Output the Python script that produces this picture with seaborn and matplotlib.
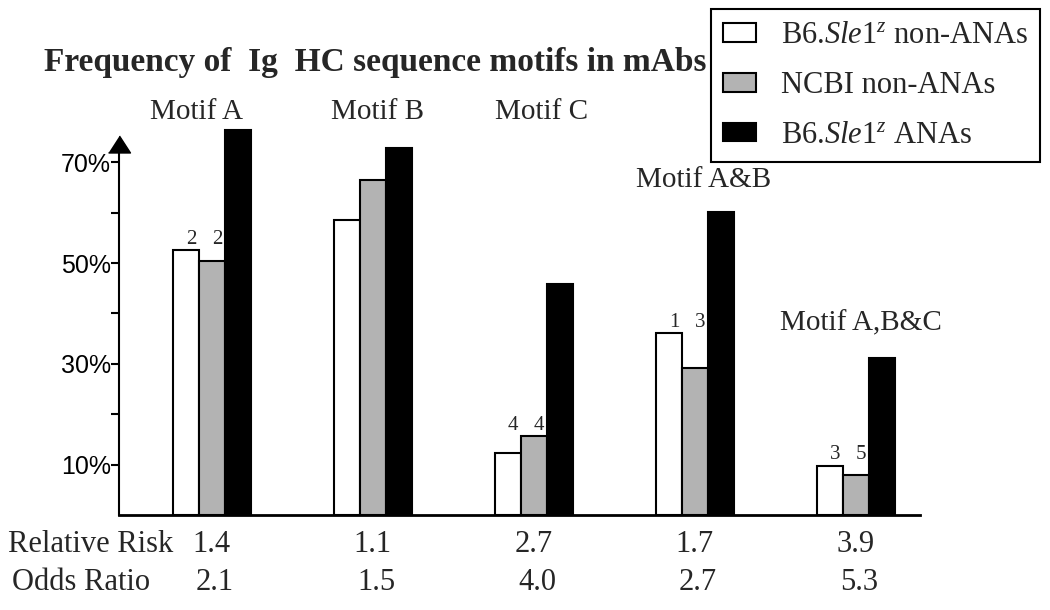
import matplotlib
matplotlib.use("Agg")
import matplotlib.pyplot as plt
import matplotlib.transforms as mtransforms
import pandas as pd
import seaborn as sns

# values (percent of mAbs)
motifs = ["Motif A", "Motif B", "Motif C", "Motif A&B", "Motif A,B&C"]
groups = [r"B6.$\mathit{Sle1}^{z}$ non-ANAs", "NCBI non-ANAs", r"B6.$\mathit{Sle1}^{z}$ ANAs"]
b6_non_ana = [52.5, 58.6, 12.4, 36.1, 9.8]
ncbi_non_ana = [50.4, 66.4, 15.6, 29.2, 7.9]
b6_ana = [76.3, 72.9, 45.9, 60.1, 31.2]
b6_non_ana_n = ["2", "", "4", "1", "3"]
ncbi_non_ana_n = ["2", "", "4", "3", "5"]
relative_risk = ["1.4", "1.1", "2.7", "1.7", "3.9"]
odds_ratio = ["2.1", "1.5", "4.0", "2.7", "5.3"]
yticks = [10, 20, 30, 40, 50, 60, 70]
ytick_labels = ["10%", "", "30%", "", "50%", "", "70%"]

SERIF = "Liberation Serif"
SANS = "Liberation Sans"


def main():
    sns.set_theme(style="ticks")
    plt.rcParams["font.family"] = [SERIF, "DejaVu Serif"]
    plt.rcParams["mathtext.fontset"] = "custom"
    plt.rcParams["mathtext.rm"] = SERIF
    plt.rcParams["mathtext.it"] = SERIF + ":italic"

    df = pd.DataFrame({
        "motif": motifs * 3,
        "group": [g for g in groups for _ in motifs],
        "freq": b6_non_ana + ncbi_non_ana + b6_ana,
    })

    fig = plt.figure(figsize=(10.5, 6.1), dpi=100)
    ax = fig.add_axes([119 / 1050, 95 / 610, 801 / 1050, 403.2 / 610])
    sns.barplot(data=df, x="motif", y="freq", hue="group", order=motifs,
                hue_order=groups, palette=["white", "#b3b3b3", "black"],
                width=0.485, edgecolor="black", linewidth=1.5, saturation=1,
                errorbar=None, ax=ax)

    handles, labels = ax.get_legend_handles_labels()
    ax.get_legend().remove()
    leg = fig.legend(handles, labels, loc="upper left",
                     bbox_to_anchor=(711 / 1050, 1 - 9 / 610), frameon=True,
                     fancybox=False, edgecolor="black", framealpha=1,
                     prop=dict(family=SERIF, size=22), handlelength=1.08,
                     handleheight=0.56, handletextpad=0.8, labelspacing=0.68,
                     borderpad=0.4, borderaxespad=0)
    leg.get_frame().set_linewidth(1.5)

    ax.set_xlim(-0.5765, 4.399)
    ax.set_ylim(0, 80)
    ax.set_xlabel("")
    ax.set_ylabel("")
    ax.set_xticks([])
    ax.set_yticks(yticks, ytick_labels)
    ax.tick_params(axis="y", length=5.8, width=1.5, pad=0, labelsize=18,
                   color="black", labelcolor="black")
    for t in ax.get_yticklabels():
        t.set_family(SANS)
    ax.spines["top"].set_visible(False)
    ax.spines["right"].set_visible(False)
    ax.spines["left"].set_bounds(0, 72)
    ax.spines["left"].set_linewidth(1.5)
    ax.spines["left"].set_color("black")
    ax.spines["bottom"].set_linewidth(2)
    ax.spines["bottom"].set_color("black")

    # arrow head on the y axis
    ax.plot([0], [73.7], marker=[(-11, -8.5), (11, -8.5), (0, 8.5)], ms=15.8,
            color="black", transform=ax.get_yaxis_transform(), clip_on=False)

    # counts above the open and grey bars, both on one line
    for i, (n1, n2) in enumerate(zip(b6_non_ana_n, ncbi_non_ana_n)):
        bar1 = ax.containers[0][i]
        bar2 = ax.containers[1][i]
        top = max(bar1.get_height(), bar2.get_height()) + 0.3
        for bar, lab in ((bar1, n1), (bar2, n2)):
            ax.text(bar.get_x() + bar.get_width() * 0.7, top, lab,
                    ha="center", va="bottom", fontsize=15, family=SERIF)

    # motif names
    label_layout = [(-0.098, 80), (0.032, 80), (0.051, 80), (0.052, 66.5), (0.032, 38.1)]
    for i, (name, (dx, y)) in enumerate(zip(motifs, label_layout)):
        ax.text(i + dx, y, name, ha="center", va="center", fontsize=21, family=SERIF)

    # relative risk / odds ratio rows
    trans = mtransforms.blended_transform_factory(ax.transData, fig.transFigure)
    fig.text(8 / 1050, 1 - 545 / 610, "Relative Risk", ha="left", va="center",
             fontsize=22, family=SERIF)
    fig.text(12 / 1050, 1 - 583 / 610, "Odds Ratio", ha="left", va="center",
             fontsize=22, family=SERIF)
    for i, (rr, orr) in enumerate(zip(relative_risk, odds_ratio)):
        ax.text(i, 1 - 545 / 610, rr, ha="center", va="center", fontsize=22,
                family=SERIF, transform=trans)
        ax.text(i + 0.02, 1 - 583 / 610, orr, ha="center", va="center", fontsize=22,
                family=SERIF, transform=trans)

    fig.text(44 / 1050, 1 - 62 / 610, "Frequency of  Ig  HC sequence motifs in mAbs",
             ha="left", va="center", fontsize=24, fontweight="bold", family=SERIF)

    fig.savefig("out.png", dpi=100)


if __name__ == "__main__":
    main()
